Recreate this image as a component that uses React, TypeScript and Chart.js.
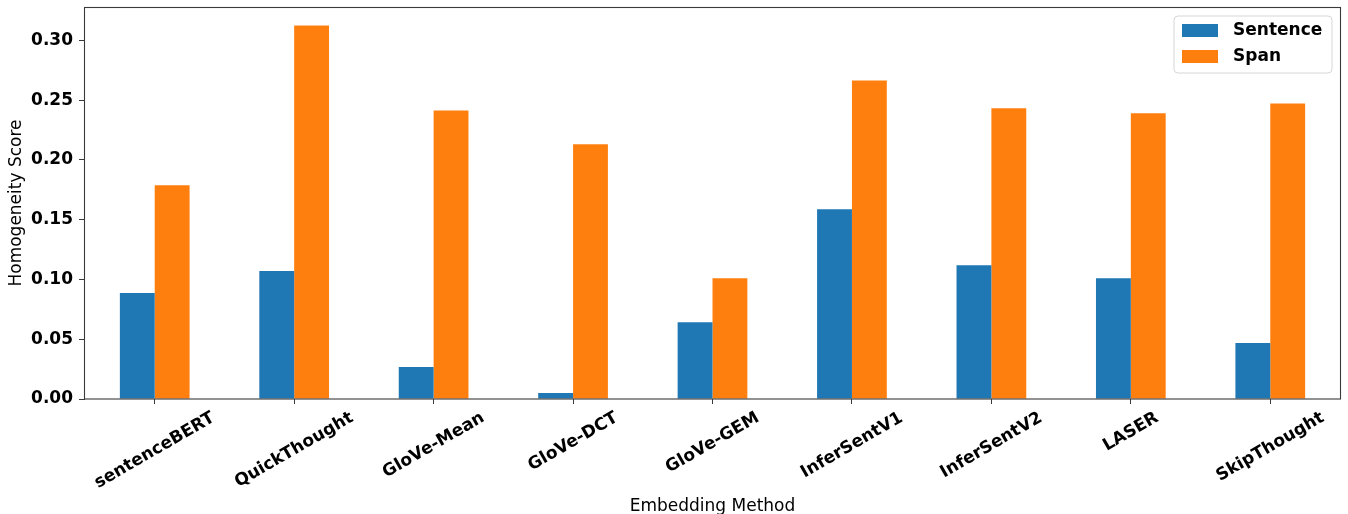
import React, { useEffect, useRef } from "react";
import { Chart, registerables } from "chart.js";

Chart.register(...registerables);

const categories = [
  "sentenceBERT",
  "QuickThought",
  "GloVe-Mean",
  "GloVe-DCT",
  "GloVe-GEM",
  "InferSentV1",
  "InferSentV2",
  "LASER",
  "SkipThought",
];
const sentenceScores = [0.0886, 0.107, 0.0267, 0.005, 0.0643, 0.1588, 0.112, 0.1011, 0.0468];
const spanScores = [0.1788, 0.3125, 0.2415, 0.2131, 0.1011, 0.2666, 0.2432, 0.239, 0.2473];
const yTickStep = 0.05;
const yMax = 0.328;

const FONT = "'DejaVu Sans', sans-serif";

const framePlugin = {
  id: "frameAndLabels",
  afterDatasetsDraw(chart: any) {
    const { ctx, chartArea } = chart;
    const { left, right, top, bottom } = chartArea;
    ctx.save();
    ctx.strokeStyle = "#3a3a3a";
    ctx.lineWidth = 1.1;
    ctx.strokeRect(Math.round(left) - 0.5, Math.round(top) + 0.5, Math.round(right - left) + 1, Math.round(bottom - top) - 0.5);
    ctx.restore();
  },
  afterDraw(chart: any) {
    const { ctx, chartArea } = chart;
    const xs = chart.scales.x;
    ctx.save();
    // rotated, centered category labels
    ctx.font = `bold 17px ${FONT}`;
    ctx.fillStyle = "#000";
    const ang = (30 * Math.PI) / 180;
    const H = 20;
    (chart.data.labels as string[]).forEach((lab, i) => {
      const x = xs.getPixelForTick(i);
      const W = ctx.measureText(lab).width;
      const bboxH = W * Math.sin(ang) + H * Math.cos(ang);
      const cy = chartArea.bottom + 9 + bboxH / 2;
      ctx.save();
      ctx.translate(x, cy);
      ctx.rotate(-ang);
      ctx.textAlign = "center";
      ctx.textBaseline = "middle";
      ctx.fillText(lab, 0, 0);
      ctx.restore();
    });

    // legend
    const bx = chartArea.right - 166;
    const by = chartArea.top + 9;
    const bw = 158;
    const bh = 57;
    ctx.beginPath();
    const r = 4;
    ctx.moveTo(bx + r, by);
    ctx.lineTo(bx + bw - r, by);
    ctx.arcTo(bx + bw, by, bx + bw, by + r, r);
    ctx.lineTo(bx + bw, by + bh - r);
    ctx.arcTo(bx + bw, by + bh, bx + bw - r, by + bh, r);
    ctx.lineTo(bx + r, by + bh);
    ctx.arcTo(bx, by + bh, bx, by + bh - r, r);
    ctx.lineTo(bx, by + r);
    ctx.arcTo(bx, by, bx + r, by, r);
    ctx.closePath();
    ctx.fillStyle = "rgba(255,255,255,0.8)";
    ctx.fill();
    ctx.strokeStyle = "#d6d6d6";
    ctx.lineWidth = 1;
    ctx.stroke();
    chart.data.datasets.forEach((ds: any, i: number) => {
      const py = by + 8 + i * 26;
      ctx.fillStyle = ds.backgroundColor;
      ctx.fillRect(bx + 8, py, 36, 13);
      ctx.fillStyle = "#000";
      ctx.font = `bold 17px ${FONT}`;
      ctx.textAlign = "left";
      ctx.textBaseline = "middle";
      ctx.fillText(ds.label, bx + 59, py + 6.5);
    });
    ctx.restore();
  },
};

export default function App() {
  const ref = useRef<HTMLCanvasElement | null>(null);
  useEffect(() => {
    document.body.style.margin = "0";
    if (!ref.current) return;
    const chart = new Chart(ref.current, {
      type: "bar",
      data: {
        labels: categories,
        datasets: [
          { label: "Sentence", data: sentenceScores, backgroundColor: "#1f77b4", borderWidth: 0 },
          { label: "Span", data: spanScores, backgroundColor: "#ff7f0e", borderWidth: 0 },
        ],
      },
      options: {
        animation: false,
        responsive: false,
        devicePixelRatio: 1,
        layout: { padding: { top: 7, right: 8, left: 0, bottom: 0 } },
        datasets: { bar: { categoryPercentage: 0.5, barPercentage: 1.0 } },
        plugins: { legend: { display: false }, tooltip: { enabled: false } },
        scales: {
          x: {
            offset: true,
            grid: { offset: false, drawOnChartArea: false, drawTicks: true, tickLength: 5, color: "#3a3a3a", lineWidth: 1 },
            border: { display: false },
            ticks: { display: false },
            title: {
              display: true,
              text: "Embedding Method",
              color: "#000",
              font: { family: FONT, size: 17, weight: "normal" },
              padding: { top: 0, bottom: -3 },
            },
            afterFit: (s: any) => {
              s.height = 115;
              s.paddingLeft = 0;
              s.paddingRight = 0;
            },
          },
          y: {
            min: 0,
            max: yMax,
            grid: { drawOnChartArea: false, drawTicks: true, tickLength: 6, color: "#3a3a3a", lineWidth: 1 },
            border: { display: false },
            ticks: {
              stepSize: yTickStep,
              includeBounds: false,
              padding: 6,
              color: "#000",
              font: { family: FONT, size: 17, weight: "bold" },
              callback: (v: any) => Number(v).toFixed(2),
            },
            title: {
              display: true,
              text: "Homogeneity Score",
              color: "#000",
              font: { family: FONT, size: 17, weight: "normal" },
              padding: { top: 6, bottom: 0 },
            },
            afterFit: (s: any) => {
              s.width = 85;
              s.paddingTop = 0;
              s.paddingBottom = 0;
            },
          },
        },
      },
      plugins: [framePlugin],
    });
    return () => chart.destroy();
  }, []);
  return (
    <div style={{ position: "absolute", left: 0, top: 0, width: 1348, height: 514 }}>
      <canvas ref={ref} width={1348} height={514} style={{ display: "block" }} />
    </div>
  );
}
